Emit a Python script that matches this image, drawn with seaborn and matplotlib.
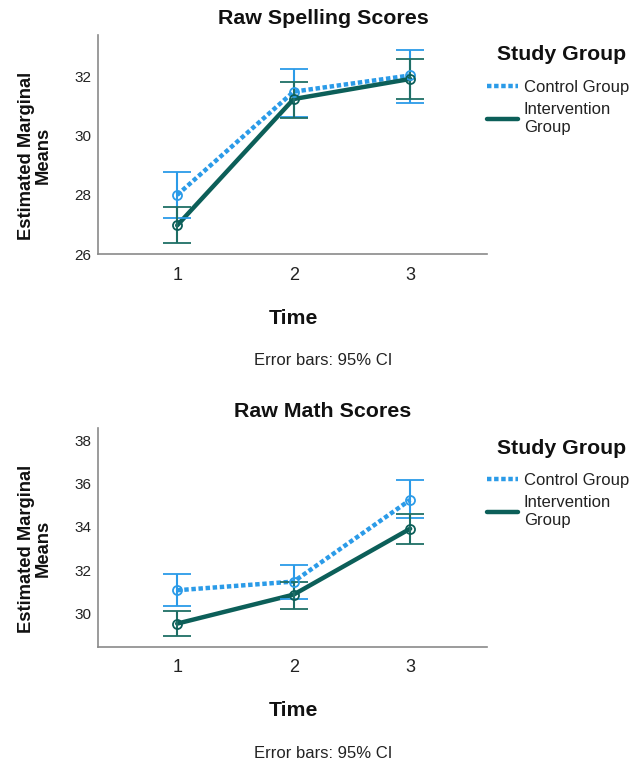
import matplotlib
matplotlib.use("Agg")
import matplotlib.pyplot as plt
import seaborn as sns
import pandas as pd
from matplotlib.lines import Line2D

sns.set_theme(style="white")
plt.rcParams['font.family'] = ['Liberation Sans', 'DejaVu Sans']

time_points = [1, 2, 3]
groups = ["Control Group", "Intervention Group"]

spell_control = [28.00, 31.50, 32.05]
spell_control_lo = [27.23, 30.65, 31.12]
spell_control_hi = [28.79, 32.28, 32.92]
spell_interv = [26.97, 31.25, 31.93]
spell_interv_lo = [26.36, 30.60, 31.26]
spell_interv_hi = [27.58, 31.83, 32.60]

math_control = [31.08, 31.48, 35.25]
math_control_lo = [30.34, 30.69, 34.42]
math_control_hi = [31.82, 32.23, 36.15]
math_interv = [29.54, 30.88, 33.92]
math_interv_lo = [28.97, 30.23, 33.23]
math_interv_hi = [30.12, 31.46, 34.62]

titles = ["Raw Spelling Scores", "Raw Math Scores"]
y_ticks = [[26, 28, 30, 32], [30, 32, 34, 36, 38]]
y_lims = [(26.0, 33.42), (28.46, 38.57)]

c_blue = "#2b9be8"
c_teal = "#0c5f59"
c_teal_err = "#1f6f66"
colors = {groups[0]: c_blue, groups[1]: c_teal}

fig = plt.figure(figsize=(6.31, 7.63), dpi=100)
W, H = 631, 763

panels = [
    (titles[0], spell_control, spell_control_lo, spell_control_hi,
     spell_interv, spell_interv_lo, spell_interv_hi, 35, 254),
    (titles[1], math_control, math_control_lo, math_control_hi,
     math_interv, math_interv_lo, math_interv_hi, 428, 647),
]

for i, (title, cm, clo, chi, im, ilo, ihi, top, bot) in enumerate(panels):
    ax = fig.add_axes([98 / W, 1 - bot / H, (487 - 98) / W, (bot - top) / H])
    df = pd.DataFrame({
        "Time": time_points * 2,
        "Mean": cm + im,
        "Study Group": [groups[0]] * 3 + [groups[1]] * 3,
    })
    sns.lineplot(data=df, x="Time", y="Mean", hue="Study Group", palette=colors,
                 ax=ax, legend=False, lw=3.2)
    ax.lines[0].set_linestyle((0, (1, 0.6)))
    for mean, lo, hi, col, ecol in [(cm, clo, chi, c_blue, c_blue),
                                    (im, ilo, ihi, c_teal, c_teal_err)]:
        yerr = [[m - l for m, l in zip(mean, lo)], [h - m for m, h in zip(mean, hi)]]
        ax.errorbar(time_points, mean, yerr=yerr, fmt='o', mfc='none', mec=col,
                    ms=6.5, mew=1.3, ecolor=ecol, elinewidth=1.5, capsize=10,
                    capthick=1.5, zorder=3)
    ax.set_xlim(0.32, 3.66)
    ax.set_ylim(*y_lims[i])
    ax.set_xticks(time_points)
    ax.set_xticklabels([str(t) for t in time_points], fontsize=13, color="#222222")
    ax.set_yticks(y_ticks[i])
    ax.set_yticklabels([str(t) for t in y_ticks[i]], fontsize=11, color="#222222")
    ax.tick_params(axis='both', length=0)
    ax.tick_params(axis='y', pad=5)
    ax.tick_params(axis='x', pad=9)
    for s in ["top", "right"]:
        ax.spines[s].set_visible(False)
    for s in ["left", "bottom"]:
        ax.spines[s].set_color("#8a8a8a")
        ax.spines[s].set_linewidth(1.2)
    ax.set_xlabel("")
    ax.set_ylabel("")
    ax.grid(False)

    fig.text(323 / W, 1 - (top - 16) / H, title, ha="center", va="center",
             fontsize=15.4, fontweight="bold", color="#111111")
    fig.text(293 / W, 1 - (bot + 64) / H, "Time", ha="center", va="center",
             fontsize=15.3, fontweight="bold", color="#111111")
    fig.text(323 / W, 1 - (bot + 107) / H, "Error bars: 95% CI", ha="center",
             va="center", fontsize=12, color="#222222")
    fig.text(35 / W, 1 - ((top + bot) / 2 + 11) / H, "Estimated Marginal\nMeans",
             ha="center", va="center", rotation=90, fontsize=13.2,
             fontweight="bold", color="#111111", linespacing=0.95)
    fig.text(562 / W, 1 - (top + 20) / H, "Study Group", ha="center",
             va="center", fontsize=15.3, fontweight="bold", color="#111111")

    handles = [
        Line2D([0], [0], color=c_blue, lw=3.2, linestyle=(0, (1, 0.6))),
        Line2D([0], [0], color=c_teal, lw=3.2),
    ]
    leg = ax.legend(handles, ["Control Group", "Intervention\nGroup"],
                    loc="upper left",
                    bbox_to_anchor=(487 / W, 1 - (top + 45) / H),
                    bbox_transform=fig.transFigure, frameon=False,
                    fontsize=12, handlelength=1.85, handletextpad=0.36,
                    labelspacing=0.42, borderaxespad=0, borderpad=0)
    for t in leg.get_texts():
        t.set_color("#222222")
        t.set_linespacing(1.25)

fig.savefig("out.png", dpi=100)
